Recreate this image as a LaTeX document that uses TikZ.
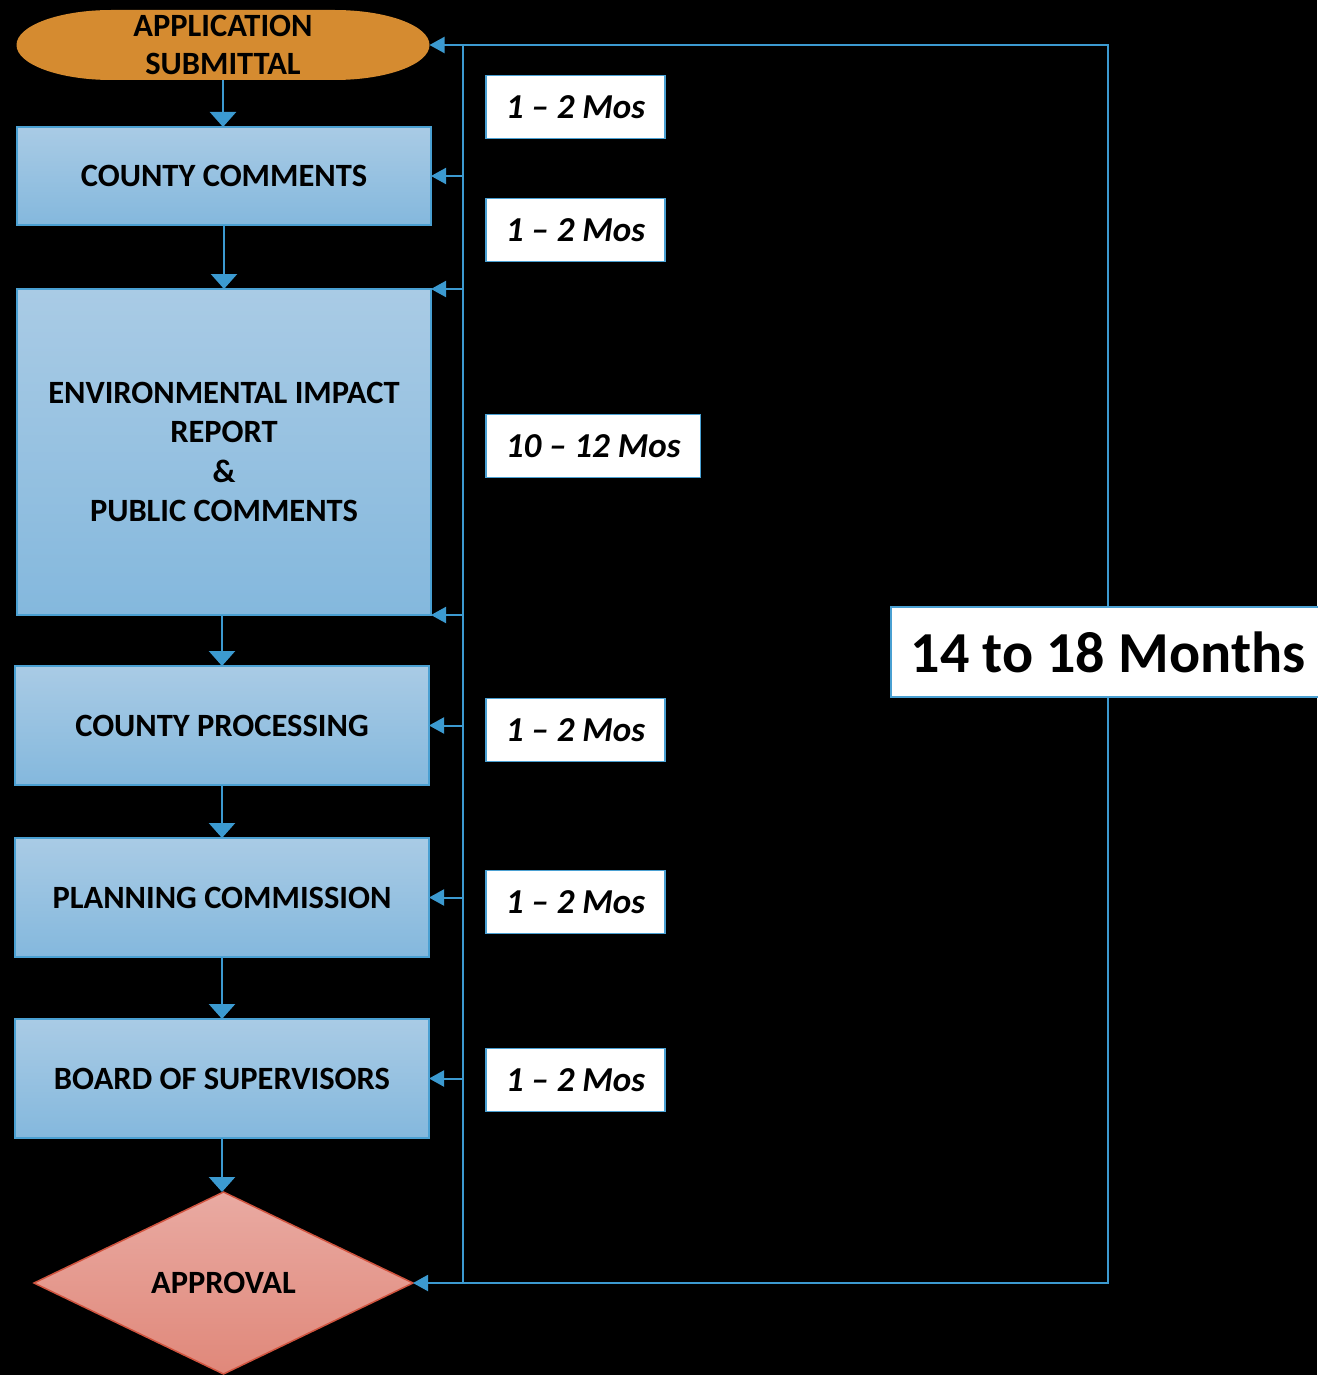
\documentclass[tikz,border=0pt]{standalone}
\usepackage{fontspec}
\setmainfont{Carlito}
\usepackage{xcolor}
\usepackage{tikz}
\usetikzlibrary{
  arrows.meta,
  shapes.geometric
}
\definecolor{flowblue}{HTML}{3C9AD0}
\definecolor{stagetop}{HTML}{A9CBE5}
\definecolor{stagebot}{HTML}{84B8DD}
\definecolor{stageline}{HTML}{4AA0D2}
\definecolor{submitfill}{HTML}{D58B30}
\definecolor{approvetop}{HTML}{E9AAA2}
\definecolor{approvebot}{HTML}{E0887A}
\definecolor{approveline}{HTML}{D0543F}
\tikzset{
  stage/.style={
    draw=stageline,
    line width=1.5pt,
    top color=stagetop,
    bottom color=stagebot,
    minimum width=414pt,
    inner sep=0pt,
    outer sep=0pt,
    align=center,
    font=\fontsize{32.5}{39.3}\selectfont\bfseries},
  mos/.style={
    draw=stageline,
    fill=white,
    line width=1.5pt,
    anchor=west,
    minimum height=63pt,
    inner xsep=20pt,
    font=\fontsize{35}{40}\selectfont\bfseries\itshape},
  flowdown/.style={
    -{Triangle[width=26pt,length=15pt]},
    draw=flowblue,
    line width=2.5pt},
  flowin/.style={
    -{Triangle[width=16pt,length=15pt]},
    draw=flowblue,
    line width=2pt},
  looppath/.style={
    draw=flowblue,
    line width=2.5pt}
  }
\begin{document}
\begin{tikzpicture}[x=1pt,y=1pt]
		\fill[black] (0,0) rectangle (1317,-1375);
		\useasboundingbox (0,0) rectangle (1317,-1375);
		% start shape, flat ends
		\fill[submitfill, shift={(223,-45)}] (-111.5,35) -- (111.5,35)
			arc[start angle=90, end angle=-90, x radius=95, y radius=35]
			-- (-111.5,-35)
			arc[start angle=270, end angle=90, x radius=95, y radius=35] -- cycle;
		\node (submit) [minimum width=413pt, minimum height=70pt, inner sep=0pt, outer sep=0pt, align=center,
			font=\fontsize{32.5}{38}\selectfont\bfseries] at (223,-45) {APPLICATION\\SUBMITTAL};
		\node (comments) [stage, minimum height=98pt] at (224,-176) {COUNTY COMMENTS};
		\node (eir) [stage, minimum height=326pt] at (224,-452) {ENVIRONMENTAL IMPACT\\REPORT\\\&\\PUBLIC COMMENTS};
		\node (processing) [stage, minimum height=119pt] at (222,-725.5) {COUNTY PROCESSING};
		\node (planning) [stage, minimum height=119pt] at (222,-897.5) {PLANNING COMMISSION};
		\node (board) [stage, minimum height=119pt] at (222,-1078.5) {BOARD OF SUPERVISORS};
		\node (approval) [diamond, draw=approveline, line width=1.5pt, top color=approvetop, bottom color=approvebot,
			minimum width=379pt, minimum height=182pt, inner sep=0pt, outer sep=0pt,
			font=\fontsize{32.5}{38}\selectfont\bfseries] at (223.5,-1283) {APPROVAL};
		\coordinate (trunk) at (463,0);
		\coordinate (edge) at (1108,0);
		% main flow
		\draw [flowdown] (submit.south) -- (submit.south |- comments.north);
		\draw [flowdown] (comments.south) -- (eir.north);
		\draw [flowdown] (processing.north |- eir.south) -- (processing.north);
		\draw [flowdown] (processing.south) -- (planning.north);
		\draw [flowdown] (planning.south) -- (board.north);
		\draw [flowdown] (board.south) -- (board.south |- approval.north);
		% timeline
		\draw [looppath] (submit.east -| trunk) -- (approval.east -| trunk);
		\draw [looppath] (approval.east -| trunk) -- (approval.east -| edge) -- (submit.east -| edge) -- (submit.east -| trunk);
		\draw [flowin] (submit.east -| trunk) -- (submit.east);
		\draw [flowin] (comments.east -| trunk) -- (comments.east);
		\draw [flowin] (eir.north east -| trunk) -- (eir.north east);
		\draw [flowin] (eir.south east -| trunk) -- (eir.south east);
		\draw [flowin] (processing.east -| trunk) -- (processing.east);
		\draw [flowin] (planning.east -| trunk) -- (planning.east);
		\draw [flowin] (board.east -| trunk) -- (board.east);
		\draw [flowin] (approval.east -| trunk) -- (approval.east);
		\node (t1) [mos] at (485,-107) {1 -- 2 Mos};
		\node (t2) [mos] at (485,-230) {1 -- 2 Mos};
		\node (t3) [mos] at (485,-446) {10 -- 12 Mos};
		\node (t4) [mos] at (485,-730) {1 -- 2 Mos};
		\node (t5) [mos] at (485,-902) {1 -- 2 Mos};
		\node (t6) [mos] at (485,-1080) {1 -- 2 Mos};
		\node (total) [mos, minimum height=90pt, font=\fontsize{58}{60}\selectfont\bfseries] at (890,-652) {14 to 18 Months};
	\end{tikzpicture}
\end{document}
